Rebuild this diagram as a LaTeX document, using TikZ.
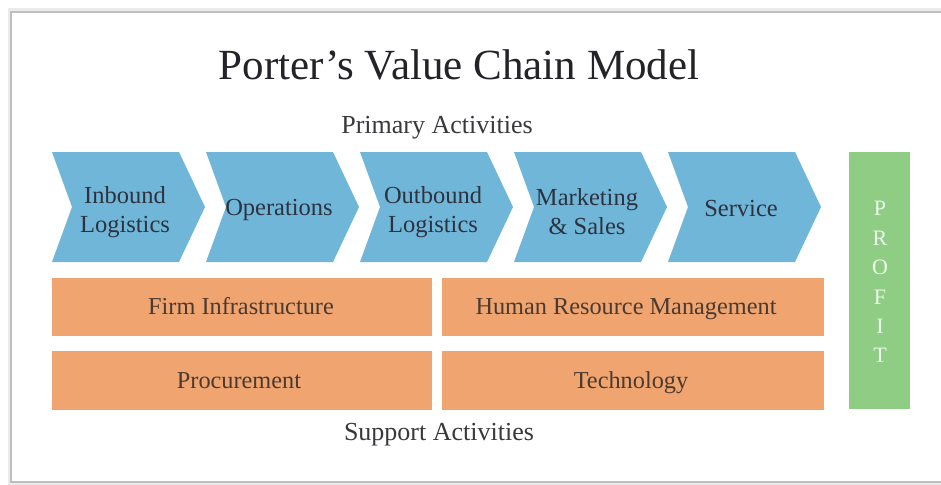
\documentclass[tikz,border=0pt]{standalone}
\usepackage{fontspec}
\setmainfont{Liberation Serif}
\definecolor{chevblue}{RGB}{112,182,217}
\definecolor{suporange}{RGB}{240,164,112}
\definecolor{profgreen}{RGB}{143,204,132}
\definecolor{chevtext}{RGB}{45,50,62}
\definecolor{boxtext}{RGB}{75,58,48}
\definecolor{titletext}{RGB}{35,35,40}
\definecolor{frameline}{RGB}{190,190,190}
\tikzset{
  chevshape/.style={fill=chevblue, draw=none},
  chevlabel/.style={font=\fontsize{24.5}{29}\selectfont, text=chevtext, align=center, inner sep=0pt},
  supbox/.style={fill=suporange, draw=none},
  suplabel/.style={font=\fontsize{24.3}{28}\selectfont, text=boxtext, inner sep=0pt, text height=0.7em, text depth=0.22em},
  profletter/.style={font=\fontsize{22}{26}\selectfont, text=white!92!green, inner sep=0pt, text height=0.66em, text depth=0pt},
  heading/.style={font=\fontsize{26}{30}\selectfont, text=titletext!90, inner sep=0pt, anchor=base},
}
\begin{document}
\begin{tikzpicture}[x=1pt,y=-1pt]
\useasboundingbox (0,0) rectangle (941,484);
\clip (0,0) rectangle (941,484);
\fill[white] (0,0) rectangle (941,484);
% frame with soft shadow
\draw[line width=3pt, black!8] (9,10) rectangle (960,484);
\draw[line width=1.6pt, frameline] (11,12) rectangle (960,482);
% title
\node[heading, font=\fontsize{43}{48}\selectfont, text=titletext] (title) at (459,80) {Porter’s Value Chain Model};
\node[heading] (primary) at (437,133) {Primary Activities};
\node[heading] (support) at (439,440) {Support Activities};
% chevrons
\foreach \i/\x/\txt/\dy in {1/52/{Inbound\\Logistics}/212, 2/206/{Operations}/210, 3/360/{Outbound\\Logistics}/212, 4/514/{Marketing\\\& Sales}/212, 5/668/{Service}/209} {
  \fill[chevshape] (\x,152) -- ++(127,0) -- ++(26,55) -- ++(-26,55) -- ++(-127,0) -- ++(20,-55) -- cycle;
  \node[chevlabel] (chev\i) at (\x+73,\dy) {\txt};
}
% support boxes
\fill[supbox] (52,278) rectangle (432,336);
\node[suplabel] (infra) at (241,312) {Firm Infrastructure};
\fill[supbox] (442,278) rectangle (824,336);
\node[suplabel] (hrm) at (626,312) {Human Resource Management};
\fill[supbox] (52,351) rectangle (432,410);
\node[suplabel] (proc) at (239,386) {Procurement};
\fill[supbox] (442,351) rectangle (824,410);
\node[suplabel] (tech) at (631,386) {Technology};
% profit bar
\fill[profgreen] (849,152) rectangle (910,409);
\foreach \l/\y [count=\k] in {P/212,R/242,O/271,F/301,I/330,T/359} {
  \node[profletter] (prof\k) at (880,\y) {\l};
}
\end{tikzpicture}
\end{document}
